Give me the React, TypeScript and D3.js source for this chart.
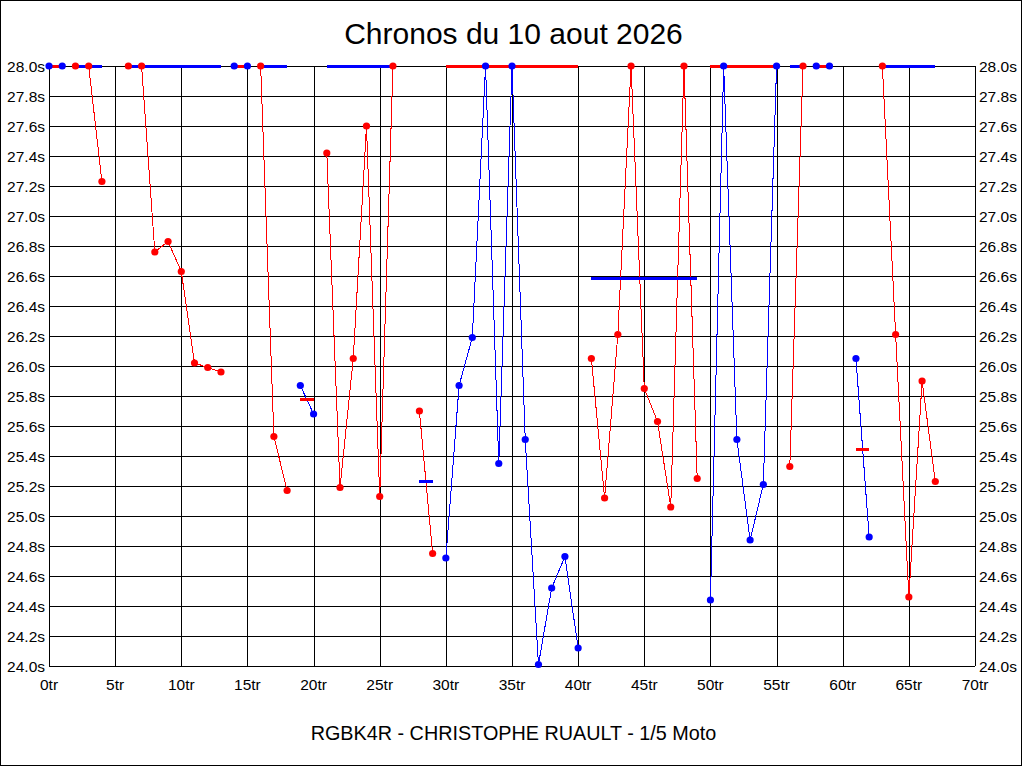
import React from "react";
import * as d3 from "d3";

// ---- Data ----
const title = "Chronos du 10 aout 2026";
const subtitle = "RGBK4R - CHRISTOPHE RUAULT - 1/5 Moto";

// lap time per lap (null = no lap); values >= 28 are shown clamped on the 28.0s line
const lapTimes: (number | null)[] = [
  28.0, 28.0, 28.0, 28.0, 27.23, null, 28.0, 28.0, 26.76, 26.83,
  26.63, 26.02, 25.99, 25.96, 28.0, 28.0, 28.0, 25.53, 25.17, 25.87,
  25.68, 27.42, 25.19, 26.05, 27.6, 25.13, 28.0, null, 25.7, 24.75,
  24.72, 25.87, 26.19, 28.0, 25.35, 28.0, 25.51, 24.01, 24.52, 24.73,
  24.12, 26.05, 25.12, 26.21, 28.0, 25.85, 25.63, 25.06, 28.0, 25.25,
  24.44, 28.0, 25.51, 24.84, 25.21, 28.0, 25.33, 28.0, 28.0, 28.0,
  null, 26.05, 24.86, 28.0, 26.21, 24.46, 25.9, 25.23,
];

// runs (stints): first lap, last lap, colour of the run, average shown
const runStart = [0, 2, 6, 14, 16, 19, 21, 28, 30, 41, 50, 56, 58, 61, 63];
const runEnd = [1, 4, 13, 15, 18, 20, 26, 29, 40, 49, 55, 57, 59, 62, 67];
const runColor = ["blue", "red", "red", "blue", "red", "blue", "red", "red", "blue", "red", "blue", "red", "blue", "blue", "red"];
const runAverage = [28, 28, 28, 28, 28, 25.78, 28, 25.23, 28, 26.59, 28, 28, 28, 25.45, 28];

const xTicks = d3.range(0, 71, 5);
const yTicks = d3.range(0, 21).map((i) => +(24 + i * 0.2).toFixed(1));

const COLORS: Record<string, string> = { red: "#FF0000", blue: "#0000FF" };
const OPPOSITE: Record<string, string> = { red: "blue", blue: "red" };

const W = 1024;
const H = 768;
const M = { left: 49, right: 975, top: 66, bottom: 666 };
const FONT = "'Liberation Sans', Arial, sans-serif";

export default function App() {
  const x = d3.scaleLinear().domain([0, 70]).range([M.left, M.right]);
  const y = d3.scaleLinear().domain([24, 28]).range([M.bottom, M.top]).clamp(true);

  const line = d3
    .line<number>()
    .x((lap) => x(lap))
    .y((lap) => y(lapTimes[lap] as number));

  const runs = runStart.map((s, i) => ({
    laps: d3.range(s, runEnd[i] + 1).filter((l) => lapTimes[l] != null),
    start: s,
    end: runEnd[i],
    color: runColor[i],
    avg: runAverage[i],
  }));

  return (
    <svg
      width={W}
      height={H}
      style={{ position: "absolute", left: 0, top: 0, background: "#fff" }}
      fontFamily={FONT}
    >
      <rect x={0} y={0} width={W} height={H} fill="#fff" />
      <rect x={0.5} y={0.5} width={1021} height={765} fill="none" stroke="#000" strokeWidth={1} />

      <text x={513.5} y={44} textAnchor="middle" fontSize={30} fill="#000">
        {title}
      </text>
      <text x={513.5} y={740} textAnchor="middle" fontSize={19.8} fill="#000">
        {subtitle}
      </text>

      {/* grid */}
      <g stroke="#000" strokeWidth={1} shapeRendering="crispEdges">
        {yTicks.map((t) => (
          <line key={"h" + t} x1={M.left} x2={M.right} y1={Math.round(y(t)) + 0.5} y2={Math.round(y(t)) + 0.5} />
        ))}
        {xTicks.map((t) => (
          <line key={"v" + t} x1={Math.round(x(t)) + 0.5} x2={Math.round(x(t)) + 0.5} y1={M.top} y2={M.bottom} />
        ))}
      </g>

      {/* axis labels */}
      <g fontSize={15.5} fill="#000">
        {yTicks.map((t) => (
          <text key={"yl" + t} x={45} y={y(t) + 6} textAnchor="end">
            {t.toFixed(1) + "s"}
          </text>
        ))}
        {yTicks.map((t) => (
          <text key={"yr" + t} x={979} y={y(t) + 6} textAnchor="start">
            {t.toFixed(1) + "s"}
          </text>
        ))}
        {xTicks.map((t) => (
          <text key={"xl" + t} x={x(t)} y={690} textAnchor="middle">
            {t + "tr"}
          </text>
        ))}
      </g>

      {/* lap lines */}
      <g fill="none" strokeWidth={1} shapeRendering="crispEdges">
        {runs.map((r, i) => (
          <path key={"l" + i} d={line(r.laps) || ""} stroke={COLORS[r.color]} />
        ))}
      </g>

      {/* run averages */}
      <g strokeWidth={3} shapeRendering="crispEdges">
        {runs.map((r, i) => (
          <line
            key={"a" + i}
            x1={x(r.start)}
            x2={x(r.end)}
            y1={Math.round(y(r.avg))}
            y2={Math.round(y(r.avg))}
            stroke={COLORS[OPPOSITE[r.color]]}
          />
        ))}
      </g>

      {/* points */}
      <g>
        {runs.map((r, i) =>
          r.laps.map((lap) => (
            <circle key={"p" + i + "-" + lap} cx={x(lap)} cy={y(lapTimes[lap] as number)} r={3.6} fill={COLORS[r.color]} />
          ))
        )}
      </g>
    </svg>
  );
}
